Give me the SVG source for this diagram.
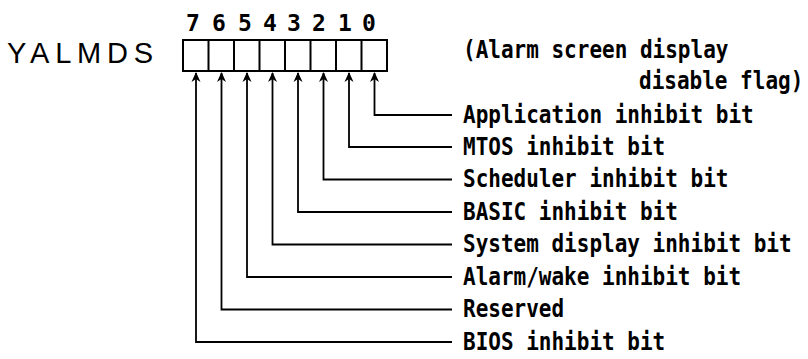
<svg xmlns="http://www.w3.org/2000/svg" width="808" height="359" viewBox="0 0 808 359">
<style>
.lbl{font-family:"DejaVu Sans Mono","Liberation Mono",monospace;font-weight:bold;font-size:21px;fill:#000}
.dig{font-family:"DejaVu Sans Mono","Liberation Mono",monospace;font-weight:bold;font-size:23px;fill:#000;text-anchor:middle}
.name{font-family:"Liberation Sans",Arial,sans-serif;font-size:29px;letter-spacing:5.8px;fill:#000}
.cell{fill:none;stroke:#000;stroke-width:2}
.conn{fill:none;stroke:#000;stroke-width:1.8}
</style>
<defs>
<marker id="ah" markerUnits="userSpaceOnUse" markerWidth="12" markerHeight="12" refX="0" refY="0" viewBox="-10 -6 12 12" orient="auto">
<path d="M1,0 L-9,-4.5 L-6,0 L-9,4.5 Z" fill="#000"/>
</marker>
</defs>
<rect width="808" height="359" fill="#fff"/>
<g id="register">
<text class="name" x="7" y="63">YALMDS</text>
<rect class="cell" x="183" y="40" width="204" height="31"/>
<path class="cell" d="M208.5,40V71M234,40V71M259.5,40V71M285,40V71M310.5,40V71M336,40V71M361.5,40V71"/>
<text class="dig" x="193" y="31">7</text>
<text class="dig" x="219" y="31">6</text>
<text class="dig" x="245" y="31">5</text>
<text class="dig" x="270" y="31">4</text>
<text class="dig" x="294" y="31">3</text>
<text class="dig" x="319" y="31">2</text>
<text class="dig" x="345" y="31">1</text>
<text class="dig" x="369" y="31">0</text>
</g>
<g id="title">
<text class="lbl" transform="translate(463,58) scale(1,1.2)">(Alarm screen display</text>
<text class="lbl" transform="translate(639,89) scale(1,1.2)">disable flag)</text>
</g>
<g id="connectors">
<path class="conn" d="M452,115H374.5V73" marker-end="url(#ah)"/>
<path class="conn" d="M452,147H349V73" marker-end="url(#ah)"/>
<path class="conn" d="M452,179.5H323.5V73" marker-end="url(#ah)"/>
<path class="conn" d="M452,212H298V73" marker-end="url(#ah)"/>
<path class="conn" d="M452,244.5H272.5V73" marker-end="url(#ah)"/>
<path class="conn" d="M452,277H247V73" marker-end="url(#ah)"/>
<path class="conn" d="M452,309.5H221.5V73" marker-end="url(#ah)"/>
<path class="conn" d="M452,342H196V73" marker-end="url(#ah)"/>
</g>
<g id="bit0"><text class="lbl" transform="translate(463,122.5) scale(1,1.2)">Application inhibit bit</text></g>
<g id="bit1"><text class="lbl" transform="translate(463,154.5) scale(1,1.2)">MTOS inhibit bit</text></g>
<g id="bit2"><text class="lbl" transform="translate(463,187) scale(1,1.2)">Scheduler inhibit bit</text></g>
<g id="bit3"><text class="lbl" transform="translate(463,219.5) scale(1,1.2)">BASIC inhibit bit</text></g>
<g id="bit4"><text class="lbl" transform="translate(463,252) scale(1,1.2)">System display inhibit bit</text></g>
<g id="bit5"><text class="lbl" transform="translate(463,284.5) scale(1,1.2)">Alarm/wake inhibit bit</text></g>
<g id="bit6"><text class="lbl" transform="translate(463,317) scale(1,1.2)">Reserved</text></g>
<g id="bit7"><text class="lbl" transform="translate(463,349.5) scale(1,1.2)">BIOS inhibit bit</text></g>
</svg>
